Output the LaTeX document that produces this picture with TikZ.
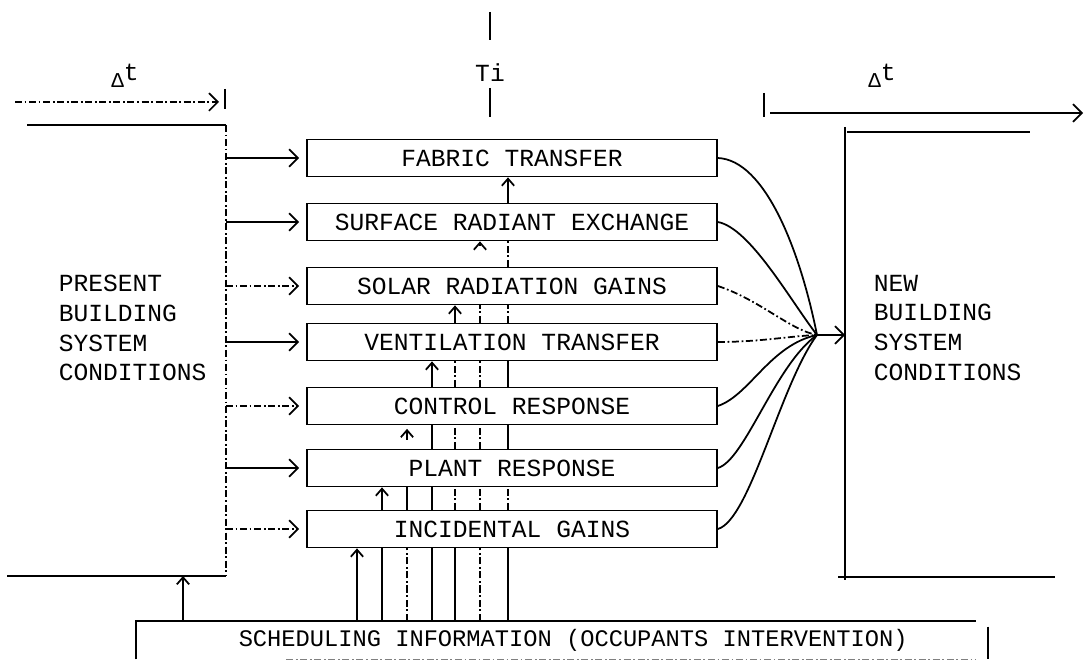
\documentclass[tikz,border=0pt]{standalone}
\usepackage{fontspec}
\newfontfamily\mono{Liberation Mono}
\usetikzlibrary{arrows.meta}
\begin{document}
\begin{tikzpicture}[x=0.02cm,y=-0.02cm, line width=1pt,
  every node/.style={font=\mono\fontsize{14}{17}\selectfont, inner sep=0pt},
  blk/.style={draw, minimum width=8.2cm, minimum height=0.74cm, anchor=center},
  arr/.style={-{Straight Barb[length=5pt,width=10pt,line width=1pt]}},
  uarr/.style={-{Straight Barb[length=4pt,width=7pt,line width=1pt]}},
  dsh/.style={dash pattern=on 4pt off 1.5pt on 1pt off 1.5pt},
  lbl/.style={align=left, anchor=north west}]
\useasboundingbox (0,0) rectangle (1085,665);

% process boxes
\node[blk] (fab) at (512,158) {FABRIC TRANSFER\hspace{0.3cm}};
\node[blk] (sur) at (512,222) {SURFACE RADIANT EXCHANGE};
\node[blk] (sol) at (512,286) {SOLAR RADIATION GAINS\hspace{0.3cm}};
\node[blk] (ven) at (512,342) {VENTILATION TRANSFER\hspace{0.4cm}};
\node[blk] (con) at (512,406) {CONTROL RESPONSE\hspace{0.4cm}};
\node[blk] (pla) at (512,468) {PLANT RESPONSE\hspace{0.4cm}};
\node[blk] (inc) at (512,529) {INCIDENTAL GAINS\hspace{0.4cm}};

% scheduling box
\node[minimum width=17cm, minimum height=0.74cm, font=\mono\fontsize{13.5}{16}\selectfont] (sch) at (562,640) {\hspace{0.45cm}SCHEDULING INFORMATION (OCCUPANTS INTERVENTION)};
\draw (sch.south west) -- (sch.north west) -- ([xshift=-0.24cm]sch.north east);
\draw ([yshift=-0.12cm]sch.north east) -- (sch.south east);
\draw[dsh, gray, line width=0.6pt] ([xshift=3cm]sch.south west) -- ([xshift=-0.24cm]sch.south east);

% labels
\node[lbl] (pre) at (58,274) {PRESENT\\BUILDING\\SYSTEM\\CONDITIONS};
\node[lbl] (new) at (873,274) {NEW\\BUILDING\\SYSTEM\\CONDITIONS};
\node (ti) at (490,73) {Ti};
\node (dtl) at (125,76) {{\fontsize{12}{12}\selectfont Δ}\raisebox{0.5ex}{t}};
\node (dtr) at (882,76) {{\fontsize{12}{12}\selectfont Δ}\raisebox{0.5ex}{t}};

% Ti line
\coordinate (ti0) at (490,12);
\coordinate (ti1) at (490,40);
\coordinate (ti2) at (490,88);
\coordinate (ti3) at (490,117);
\draw (ti0) -- (ti1);
\draw (ti2) -- (ti3);

% left time arrow
\coordinate (la0) at (15,102);
\coordinate (la1) at (219,102);
\coordinate (lb0) at (225,89);
\coordinate (lb1) at (225,109);
\draw[arr, dsh] (la0) -- (la1);
\draw (lb0) -- (lb1);

% right time arrow
\coordinate (rb0) at (764,93);
\coordinate (rb1) at (764,117);
\coordinate (ra0) at (770,113);
\coordinate (ra1) at (1083,113);
\draw (rb0) -- (rb1);
\draw[arr] (ra0) -- (ra1);

% left frame (present conditions)
\coordinate (LT0) at (27,125);
\coordinate (LT) at (226,125);
\coordinate (LB) at (226,576);
\coordinate (LB0) at (7,576);
\draw (LT0) -- (LT);
\draw[dsh] (LT) -- (LB);
\draw (LB0) -- (LB);

% right frame (new conditions)
\coordinate (RT) at (845,127);
\coordinate (RB) at (845,580);
\coordinate (RT1) at (847,132);
\coordinate (RT2) at (1030,132);
\coordinate (RB0) at (838,577);
\coordinate (RB1) at (1055,577);
\draw (RT) -- (RB);
\draw (RT1) -- (RT2);
\draw (RB0) -- (RB1);

% feeds from present conditions
\foreach \b in {fab,sur,ven,pla}
  \draw[arr, shorten >=4pt] (LT |- \b.west) -- (\b.west);
\foreach \b in {sol,con,inc}
  \draw[arr, dsh, shorten >=4pt] (LT |- \b.west) -- (\b.west);

% scheduling to present
\draw[uarr] (183,0 |- sch.north) -- (183,0 |- LB);

% converging outputs
\coordinate (cv) at (817,335);
\draw (fab.east) .. controls (765,160) and (800,250) .. (cv);
\draw (sur.east) .. controls (750,228) and (790,300) .. (cv);
\draw[dsh] (sol.east) .. controls (760,300) and (790,330) .. (cv);
\draw[dsh] (ven.east) .. controls (760,342) and (790,336) .. (cv);
\draw (con.east) .. controls (750,395) and (770,345) .. (cv);
\draw (pla.east) .. controls (745,460) and (775,365) .. (cv);
\draw (inc.east) .. controls (750,520) and (780,385) .. (cv);
\draw[arr] (cv) -- (RT |- cv);

% vertical links: scheduling -> incidental
\draw[uarr] (357,0 |- sch.north) -- (357,0 |- inc.south);
\foreach \x in {382,432,455,508} \draw (\x,0 |- sch.north) -- (\x,0 |- inc.south);
\foreach \x in {407,480} \draw[dsh] (\x,0 |- sch.north) -- (\x,0 |- inc.south);
% incidental -> plant
\draw[uarr] (382,0 |- inc.north) -- (382,0 |- pla.south);
\foreach \x in {407,432} \draw (\x,0 |- inc.north) -- (\x,0 |- pla.south);
\foreach \x in {455,480,508} \draw[dsh] (\x,0 |- inc.north) -- (\x,0 |- pla.south);
% plant -> control
\draw[uarr, shorten <=5pt, shorten >=2pt] (407,0 |- pla.north) -- (407,0 |- con.south);
\foreach \x in {432,508} \draw (\x,0 |- pla.north) -- (\x,0 |- con.south);
\foreach \x in {455,480} \draw[dsh] (\x,0 |- pla.north) -- (\x,0 |- con.south);
% control -> ventilation
\draw[uarr] (432,0 |- con.north) -- (432,0 |- ven.south);
\draw (508,0 |- con.north) -- (508,0 |- ven.south);
\foreach \x in {455,480} \draw[dsh] (\x,0 |- con.north) -- (\x,0 |- ven.south);
% ventilation -> solar
\draw[uarr] (455,0 |- ven.north) -- (455,0 |- sol.south);
\foreach \x in {480,508} \draw[dsh] (\x,0 |- ven.north) -- (\x,0 |- sol.south);
% solar -> surface
\draw[uarr, shorten <=12pt] (480,0 |- sol.north) -- (480,0 |- sur.south);
\draw[dsh] (508,0 |- sol.north) -- (508,0 |- sur.south);
% surface -> fabric
\draw[uarr] (508,0 |- sur.north) -- (508,0 |- fab.south);
\end{tikzpicture}
\end{document}
